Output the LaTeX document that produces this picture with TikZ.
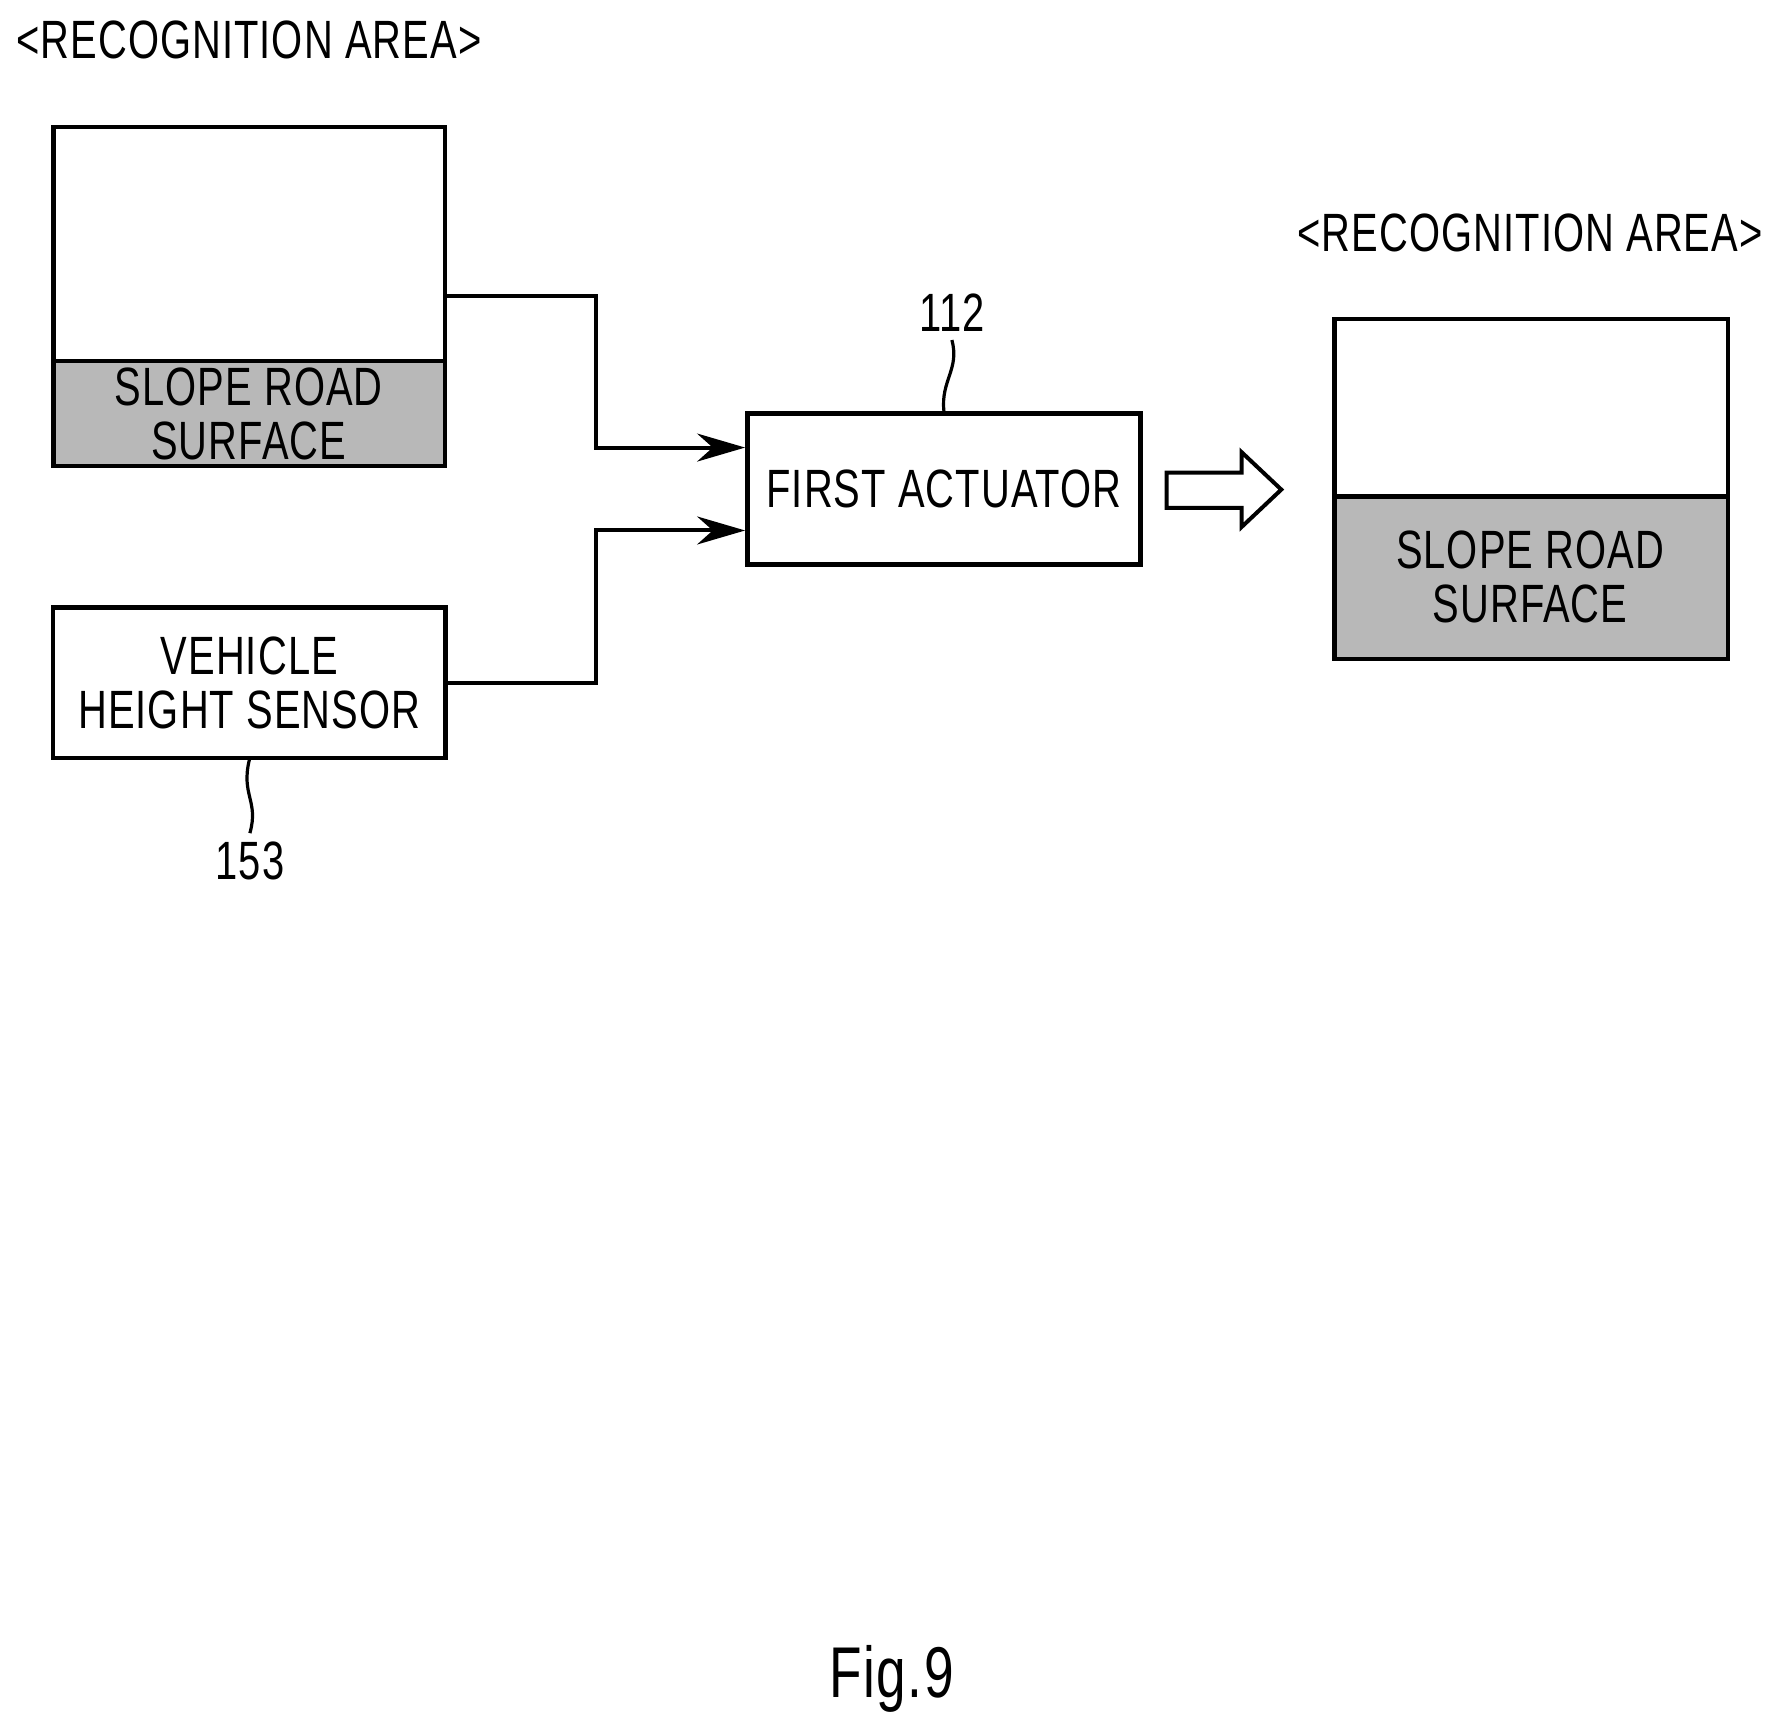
\documentclass[tikz,border=0pt]{standalone}
\usepackage{fontspec}
\setmainfont{Liberation Sans}[FakeStretch=0.74, LetterSpace=2]
\usepackage{tikz}
\usetikzlibrary{arrows.meta}

\begin{document}
\begin{tikzpicture}[x=0.01cm, y=-0.01cm,
  every node/.style={font=\fontsize{13.5}{13.5}\selectfont, align=center, inner sep=0pt},
  box/.style={draw, line width=1.1pt},
  road/.style={fill=black!28},
  wire/.style={line width=1pt},
  lead/.style={line width=0.8pt}]

  \useasboundingbox (0, 0) rectangle (1560, 1517);

  % recognition area before
  \node (titleA) at (219, 35) {<RECOGNITION AREA>};
  \filldraw[box, road] (47, 318) rectangle (392, 410);
  \draw[box] (47, 112) rectangle (392, 410);
  \draw[box] (47, 318) -- (392, 318);
  \node (roadA) at (219, 364) {SLOPE ROAD\\SURFACE};
  \coordinate (camout) at (392, 261);

  % vehicle height sensor
  \node[box, minimum width=3.45cm, minimum height=1.32cm] (sensor) at (219.5, 601)
    {VEHICLE\\HEIGHT SENSOR};
  \node[inner sep=2pt] (n153) at (220, 758) {153};
  \draw[lead] (sensor.south) .. controls (212, 700) and (228, 705) .. (n153.north);

  % first actuator
  \node[box, minimum width=3.46cm, minimum height=1.33cm] (act) at (831, 430.5) {FIRST ACTUATOR};
  \node[inner sep=2pt] (n112) at (838, 275) {112};
  \draw[lead] (act.north) .. controls (828, 335) and (845, 325) .. (n112.south);

  \draw[wire, -{Stealth[length=12pt, width=7pt]}] (camout) -- (525, 261) |- (act.west |- 0, 394);
  \draw[wire, -{Stealth[length=12pt, width=7pt]}] (sensor.east) -- (525, 601) |- (act.west |- 0, 467);

  % hollow arrow
  \draw[line width=1pt] (1027, 416) -- (1093, 416) -- (1093, 398) -- (1128, 431)
    -- (1093, 464) -- (1093, 447) -- (1027, 447) -- cycle;

  % recognition area after
  \node (titleB) at (1347, 205) {<RECOGNITION AREA>};
  \filldraw[box, road] (1175, 437) rectangle (1521, 580);
  \draw[box] (1175, 281) rectangle (1521, 580);
  \draw[box] (1175, 437) -- (1521, 437);
  \node (roadB) at (1347, 508) {SLOPE ROAD\\SURFACE};

  \node[font=\fontsize{18}{18}\selectfont] (fig) at (785, 1478) {Fig.9};
\end{tikzpicture}
\end{document}
